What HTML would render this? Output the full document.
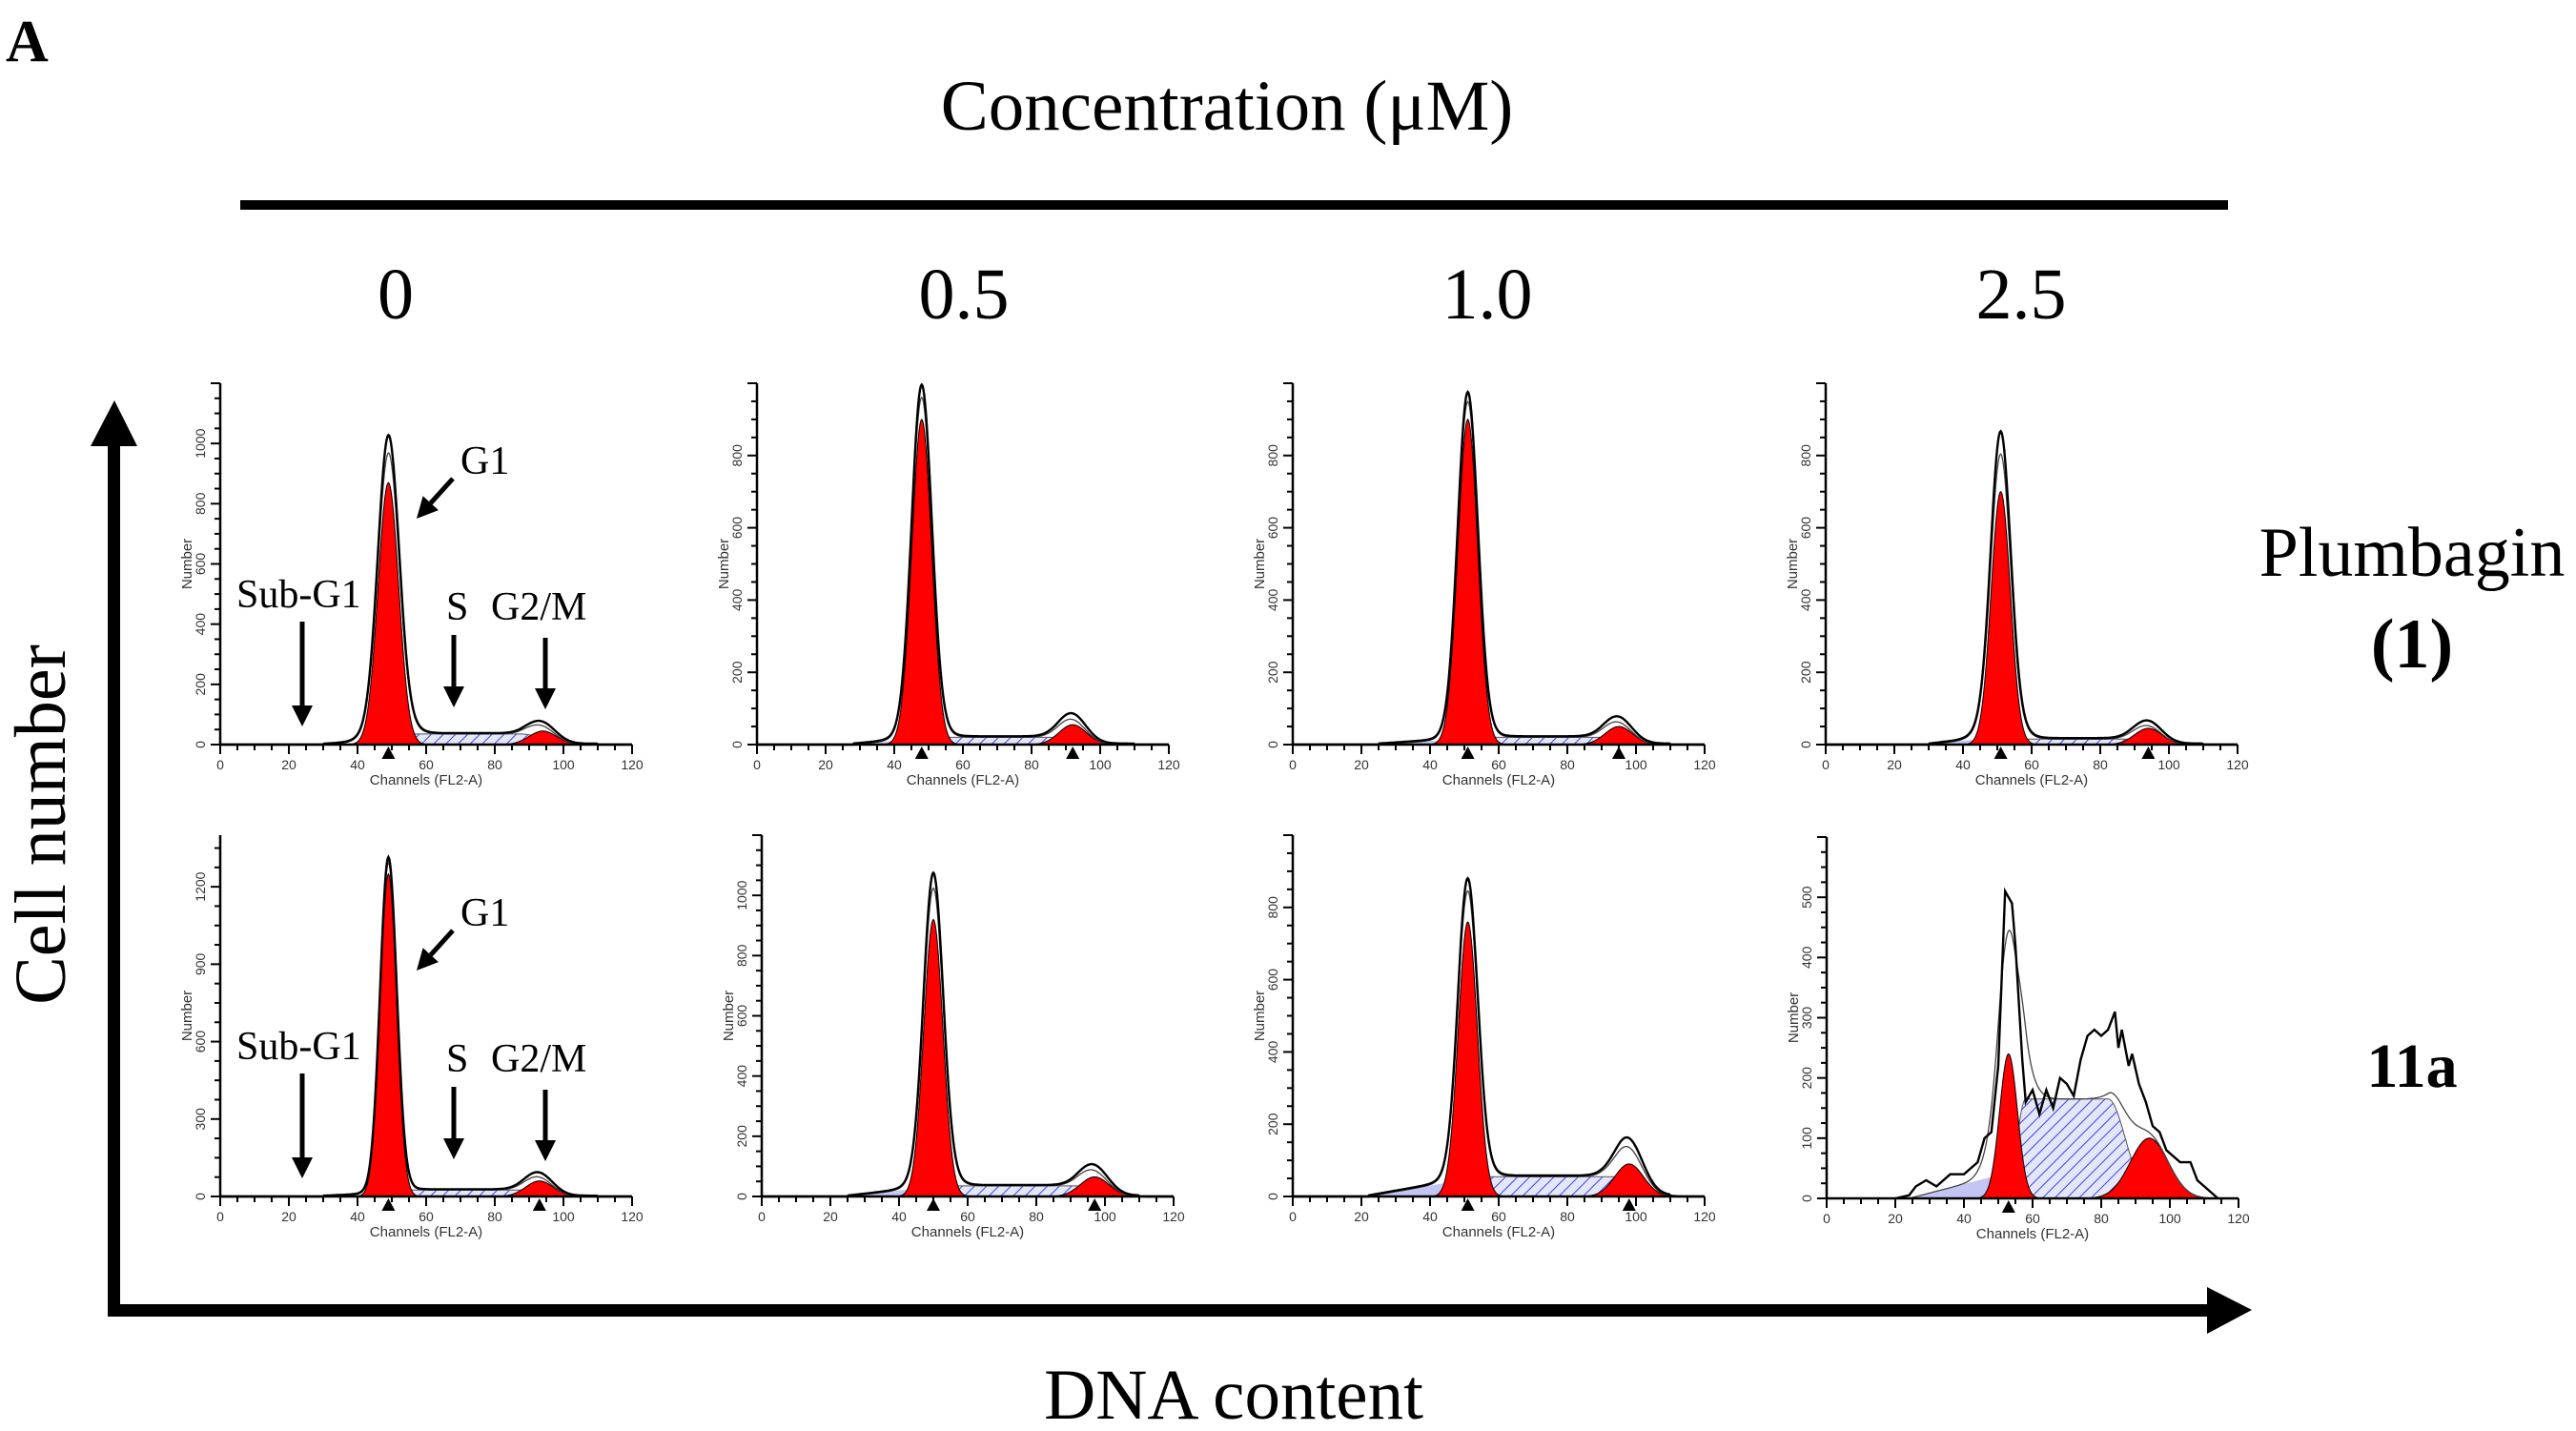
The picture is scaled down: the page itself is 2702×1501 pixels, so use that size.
<!DOCTYPE html>
<html><head><meta charset="utf-8"><style>
html,body{margin:0;padding:0;background:#fff;}
svg{display:block;}
.ser{font-family:"Liberation Serif",serif;fill:#000;}
.san{font-family:"Liberation Sans",sans-serif;fill:#333;}
</style></head><body>
<svg id="fig" width="2702" height="1501" viewBox="0 0 2702 1501" xmlns="http://www.w3.org/2000/svg">
<defs>
<pattern id="hatchS" width="9" height="9" patternUnits="userSpaceOnUse" patternTransform="rotate(45)">
<rect width="9" height="9" fill="#e4e6fb"/><line x1="0" y1="0" x2="0" y2="9" stroke="#3a46d8" stroke-width="2"/></pattern>
</defs>
<text class="ser" x="6" y="64" font-size="62" font-weight="bold">A</text>
<text class="ser" x="1287" y="136" font-size="75" text-anchor="middle">Concentration (μM)</text>
<rect x="252" y="210" width="2085" height="10" fill="#000"/>
<text class="ser" x="415" y="334" font-size="76" text-anchor="middle">0</text>
<text class="ser" x="1011" y="334" font-size="76" text-anchor="middle">0.5</text>
<text class="ser" x="1560" y="334" font-size="76" text-anchor="middle">1.0</text>
<text class="ser" x="2120" y="334" font-size="76" text-anchor="middle">2.5</text>
<g>
<rect x="113" y="455" width="13" height="925" fill="#000"/>
<polygon points="95,468 144,468 120,420" fill="#000"/></g>
<g>
<rect x="113" y="1368" width="2210" height="13" fill="#000"/>
<polygon points="2315,1350 2315,1399 2362,1374" fill="#000"/></g>
<text class="ser" transform="translate(68,865) rotate(-90)" font-size="76" text-anchor="middle">Cell number</text>
<text class="ser" x="1294" y="1488" font-size="75" text-anchor="middle">DNA content</text>
<text class="ser" x="2530" y="604" font-size="74" text-anchor="middle">Plumbagin</text>
<text class="ser" x="2530" y="700" font-size="74" text-anchor="middle" font-weight="bold">(1)</text>
<text class="ser" x="2530" y="1140" font-size="66" text-anchor="middle" font-weight="bold">11a</text>
<g id="plots"></g>
<g id="annot"></g>
</svg>
<script>
// Panel data
const panelNames = ['p-0-r1','p-05-r1','p-10-r1','p-25-r1','p-0-r2','p-05-r2','p-10-r2','p-25-r2'];
const yMaxes   = [1200,1000,1000,1000,1400,1200,1000,600];
const tickStep = [200,200,200,200,300,200,200,100];
const g1Center = [49,48,51,51,49,50,51,53];
const g1Peak   = [870,900,900,700,1250,920,760,240];
const g1Sd     = [3.0,2.9,2.9,2.8,2.4,2.8,2.8,2.6];
const obsPeak  = [1010,980,960,850,1300,1040,840,510];
const g2Center = [94,92,95,94,93,97,98,94];
const g2Peak   = [45,55,50,45,60,65,90,100];
const g2Sd     = [4,4,4,4,4,4.2,4.2,5.5];
const sLevel   = [35,20,20,15,25,35,55,165];
const sStart   = [53,52,55,55,53,53,55,58];
const sEnd     = [88,88,90,88,88,92,95,82];
const debLevel = [10,15,15,20,10,30,45,40];
const debStart = [30,28,25,30,30,25,22,24];
const trianglesG2 = [false,true,true,true,true,true,true,false];
// Observed histogram for 2.5 uM 11a
const obsCh = [20,24,26,29,32,36,40,44,46,48,50,52,54,55,57,58,60,62,64,66,68,70,72,74,76,78,80,82,84,85,86,88,89,91,93,95,97,99,101,103,106,108,111,114];
const obsVal= [0,5,20,30,20,40,40,60,100,110,220,510,490,420,230,160,180,140,180,150,200,190,170,230,270,280,270,280,310,250,280,220,240,190,160,120,110,80,70,60,60,30,15,0];

const axX = [231,794,1356,1915,231,799,1356,1916];
const base = [781,781,781,781,1255,1255,1255,1257];
const W = 432, H = 379;
const NS='http://www.w3.org/2000/svg';
const plots=document.getElementById('plots');
function el(tag,attrs,parent){const e=document.createElementNS(NS,tag);for(const k in attrs)e.setAttribute(k,attrs[k]);parent.appendChild(e);return e;}
function gauss(c,mu,pk,sd){return pk*Math.exp(-(c-mu)*(c-mu)/(2*sd*sd));}
function sComp(i,c){const a=sStart[i],b=sEnd[i];let f;if(c<a)f=Math.exp(-(c-a)*(c-a)/(2*2.5*2.5));else if(c>b)f=Math.exp(-(c-b)*(c-b)/(2*5*5));else f=1;return sLevel[i]*f;}
function deb(i,c){const e=g1Center[i]-2;if(c<debStart[i]||c>e+4)return 0;if(c>e)return debLevel[i]*(1-(c-e)/4);return debLevel[i]*(c-debStart[i])/(e-debStart[i]);}

for(let i=0;i<8;i++){
  const g=el('g',{},plots);
  
  
  const X=c=>axX[i]+c/120*W, Y=v=>base[i]-v/yMaxes[i]*H;
  const chs=[];for(let c=0;c<=120;c+=0.25)chs.push(c);
  function area(fn,fill,stroke,name){
    let d='M'+X(0)+','+Y(0);
    chs.forEach(c=>{d+='L'+X(c).toFixed(1)+','+Y(fn(c)).toFixed(1);});
    d+='L'+X(120)+','+Y(0)+'Z';
    const p=el('path',{d:d,fill:fill,stroke:stroke,'stroke-width':1},g);
    
    
  }
  area(c=>deb(i,c),'#c3c6f5','none','debris-fill');
  area(c=>sComp(i,c),'url(#hatchS)','#555','s-phase-fill');
  area(c=>gauss(c,g1Center[i],g1Peak[i],g1Sd[i]),'#ff0000','#000','g1-peak-fill');
  area(c=>gauss(c,g2Center[i],g2Peak[i],g2Sd[i]),'#ff0000','#000','g2m-peak-fill');
  const model=c=>gauss(c,g1Center[i],g1Peak[i],g1Sd[i])+gauss(c,g2Center[i],g2Peak[i],g2Sd[i])+sComp(i,c)+deb(i,c)+gauss(c,g1Center[i],(obsPeak[i]-g1Peak[i])*0.6,g1Sd[i]*1.6);
  let dm='';chs.forEach((c,k)=>{dm+=(k?'L':'M')+X(c).toFixed(1)+','+Y(model(c)).toFixed(1);});
  const ml=el('path',{d:dm,fill:'none',stroke:'#444','stroke-width':1.3},g);
  
  
  let dobs='';
  if(i===7){obsCh.forEach((c,k)=>{dobs+=(k?'L':'M')+X(c).toFixed(1)+','+Y(obsVal[k]).toFixed(1);});}
  else{const obs=c=>model(c)+gauss(c,g1Center[i],obsPeak[i]-g1Peak[i]-(obsPeak[i]-g1Peak[i])*0.6,g1Sd[i]*1.1)+gauss(c,g2Center[i],g2Peak[i]*0.25,4)+(c>debStart[i]&&c<110?3:0);
    chs.forEach((c,k)=>{dobs+=(k?'L':'M')+X(c).toFixed(1)+','+Y(obs(c)).toFixed(1);});}
  const ol=el('path',{d:dobs,fill:'none',stroke:'#000','stroke-width':2.4},g);
  
  
  // axes
  const ax=el('g',{},g);
  
  
  el('line',{x1:X(0),y1:base[i]-H,x2:X(0),y2:base[i],stroke:'#000','stroke-width':2.5},ax);
  el('line',{x1:X(0),y1:base[i],x2:X(120),y2:base[i],stroke:'#000','stroke-width':2.5},ax);
  for(let c=0;c<=120;c+=5){el('line',{x1:X(c),y1:base[i],x2:X(c),y2:base[i]+(c%20===0?10:6),stroke:'#000','stroke-width':2},ax);}
  for(let c=0;c<=120;c+=20){const t=el('text',{x:X(c),y:base[i]+26,'font-size':14,'text-anchor':'middle',class:'san'},ax);t.textContent=c;}
  const minor=tickStep[i]/4;
  for(let v=0;v<=yMaxes[i];v+=minor){const big=Math.abs(v%tickStep[i])<1e-6;el('line',{x1:X(0),y1:Y(v),x2:X(0)-(big?10:6),y2:Y(v),stroke:'#000','stroke-width':2},ax);}
  for(let v=0;v<yMaxes[i];v+=tickStep[i]){const t=el('text',{transform:'translate('+(X(0)-16)+','+Y(v)+') rotate(-90)','font-size':14,'text-anchor':'middle',class:'san'},ax);t.textContent=v;}
  const yl=el('text',{transform:'translate('+(X(0)-30)+','+(base[i]-H/2)+') rotate(-90)','font-size':15,'text-anchor':'middle',class:'san'},ax);yl.textContent='Number';
  const xl=el('text',{x:X(60),y:base[i]+42,'font-size':15,'text-anchor':'middle',class:'san'},ax);xl.textContent='Channels (FL2-A)';
  // triangles
  const tri=[g1Center[i]];if(trianglesG2[i])tri.push(g2Center[i]);
  tri.forEach(c=>{const t=el('polygon',{points:(X(c)-7)+','+(base[i]+15)+' '+(X(c)+7)+','+(base[i]+15)+' '+X(c)+','+(base[i]+2),fill:'#000'},g);
    
    });
}
// annotations on first column
const annot=document.getElementById('annot');
[0,474].forEach((dy,r)=>{
  const a=el('g',{},annot);
  
  
  const tx=(x,y,s)=>{const t=el('text',{x:x,y:y+dy,'font-size':42,class:'ser'},a);t.textContent=s;};
  tx(483,497,'G1');tx(248,637,'Sub-G1');tx(468,650,'S');tx(515,650,'G2/M');
  const arr=(x1,y1,x2,y2)=>{const ang=Math.atan2(y2-y1,x2-x1),L=22,w=11;
    const bx=x2-L*Math.cos(ang),by=y2-L*Math.sin(ang);
    el('line',{x1:x1,y1:y1+dy,x2:bx,y2:by+dy,stroke:'#000','stroke-width':5},a);
    el('polygon',{points:x2+','+(y2+dy)+' '+(bx-w*Math.sin(ang))+','+(by+w*Math.cos(ang)+dy)+' '+(bx+w*Math.sin(ang))+','+(by-w*Math.cos(ang)+dy),fill:'#000'},a);};
  arr(475,502,437,544);arr(317,652,317,762);arr(476,666,476,742);arr(572,669,572,744);
});
</script>
</body></html>
